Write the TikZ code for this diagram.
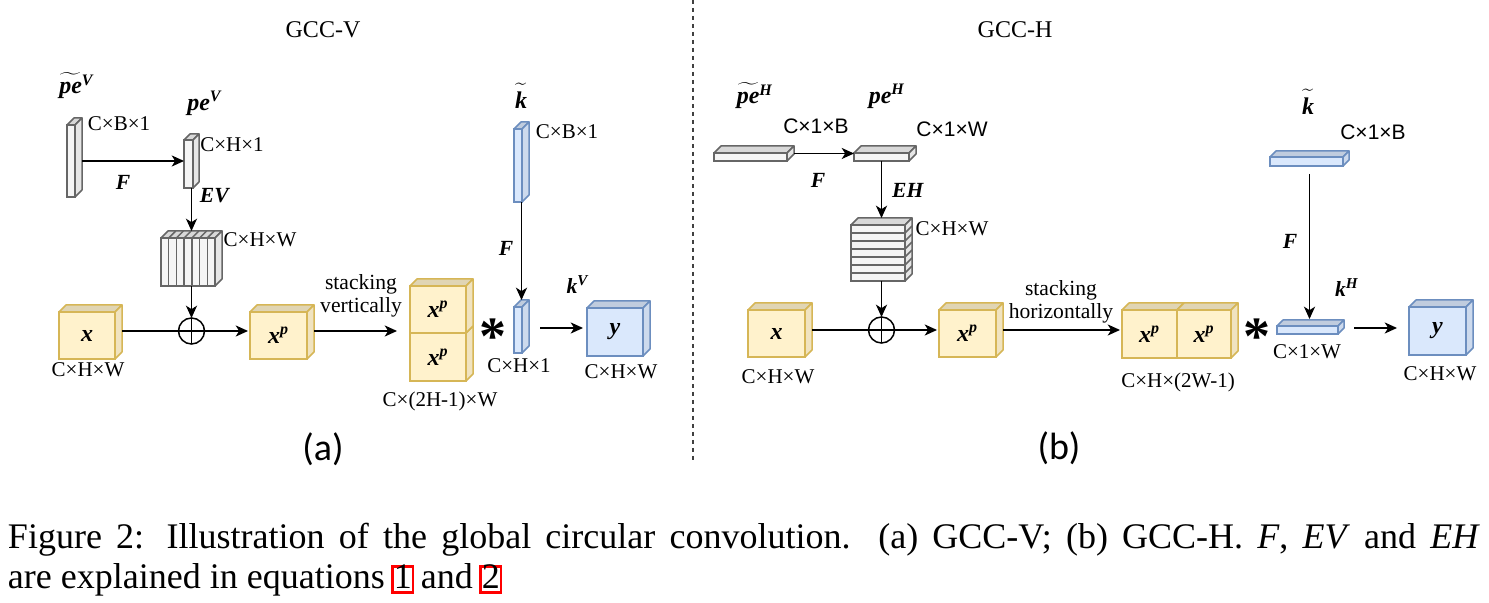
\documentclass[tikz,border=0pt]{standalone}
\usepackage{fontspec}
\setmainfont{Liberation Serif}
\newfontfamily\arialf{Liberation Sans}
\newfontfamily\carl{Carlito}
\usetikzlibrary{arrows.meta,calc}
\definecolor{yfill}{HTML}{FFF2CC}
\definecolor{yline}{HTML}{D6B656}
\definecolor{bfill}{HTML}{DAE8FC}
\definecolor{bline}{HTML}{6C8EBF}
\definecolor{gfill}{HTML}{F5F5F5}
\definecolor{gline}{HTML}{666666}
\newcommand{\bi}[1]{\textbf{\textit{#1}}}
\newcommand{\fs}[1]{\fontsize{#1}{#1}\selectfont}
\newcommand{\cubefaces}[4]{%
 \filldraw[fill=#2!88!black, draw=#3, face] (#1.north west) -- ++(#4,-#4) -- ([shift={(#4,-#4)}]#1.north east) -- (#1.north east) -- cycle;
 \filldraw[fill=#2!94!black, draw=#3, face] (#1.north east) -- ++(#4,-#4) -- ([shift={(#4,-#4)}]#1.south east) -- (#1.south east) -- cycle;}
\newcommand{\cubenode}[9]{%
 \node[draw=#7, fill=#6, line width=0.75pt, minimum width={(#4-#2)*0.5pt}, minimum height={(#5-#3)*0.5pt}] (#1) at ({(#2+#4)/2},{(#3+#5)/2}) {#9};
 \cubefaces{#1}{#6}{#7}{#8}}
\newcommand{\lnk}[1]{\leavevmode\rlap{\kern-1.3pt\raisebox{-1.2pt}{\color{red}\setlength{\fboxsep}{0pt}\setlength{\fboxrule}{1.3pt}\fbox{\phantom{#1}\rule{0pt}{11pt}}}}#1}
\newcommand{\tl}[1]{\leavevmode\rlap{\raisebox{1.6pt}{$\widetilde{\phantom{\mbox{#1}}}$}}#1}
\begin{document}
\begin{tikzpicture}[x=0.5pt,y=-0.5pt,
  every node/.style={inner sep=0pt,outer sep=0pt},
  face/.style={line width=0.75pt,line join=round},
  arr/.style={line width=0.65pt,-{Stealth[length=6.2pt,width=5.6pt,inset=1.8pt]}},
  ln/.style={line width=0.65pt},
  lab/.style={font=\fs{10.5}},
  slab/.style={font=\arialf\fs{10.5}},
  mlab/.style={font=\fs{10.8}},
  plab/.style={font=\fs{12}},
  ttl/.style={font=\fs{12}},
  sub/.style={font=\carl\fs{19}},
  stk/.style={font=\fontsize{10.8}{11.2}\selectfont, align=center},
  star/.style={font=\fs{27}\bfseries},
  oplus/.style={circle, draw, line width=0.75pt, minimum size=13pt}
]
\useasboundingbox (0,0) rectangle (1489,603);
\fill[white] (0,0) rectangle (1489,603);

% divider
\draw[dash pattern=on 2.2pt off 1.8pt, line width=0.8pt, black!75] (693,0) -- (693,460);

% ================= (a) GCC-V =================
\node[ttl] (t1) at (323,30) {GCC-V};
\cubenode{pv1}{67}{125}{75}{197}{gfill}{gline}{7}{}
\cubenode{pv2}{184}{140}{193}{188}{gfill}{gline}{6}{}
\node[plab] (lpvt) at (77,86) {\tl{\bi{pe}}\textsuperscript{\bi{V}}};
\node[plab] (lpv) at (205,103) {\bi{pe}\textsuperscript{\bi{V}}};
\node[lab] (lcb1) at (119,124) {C×B×1};
\node[lab] (lch1) at (232,145) {C×H×1};
\node[mlab] (lF1) at (123,182) {\bi{F}};
\node[mlab] (lEV) at (215,196) {\bi{EV}};

% sliced block (vertical slices)
\node[draw=gline, fill=gfill, line width=0.75pt, minimum width=27pt, minimum height=24pt] (sv) at (188,262) {};
\cubefaces{sv}{gfill}{gline}{7}
\foreach \i in {1,...,6}{
  \draw[gline, line width=0.75pt] ($(sv.north west)!\i/7!(sv.north east)$) -- ($(sv.south west)!\i/7!(sv.south east)$);
  \draw[gline, line width=0.75pt] ($(sv.north west)!\i/7!(sv.north east)$) -- ++(7,-7);
}
\node[lab] (lchw1) at (260,240) {C×H×W};

\node[oplus] (pa) at (191.5,331) {};
\draw[line width=0.75pt] (pa.north) -- (pa.south) (pa.west) -- (pa.east);

\cubenode{xa}{59}{312}{115}{359}{yfill}{yline}{7}{\fs{12}\bi{x}}
\node[lab] (lxa) at (88,370) {C×H×W};
\cubenode{xpa}{250}{312}{307}{359}{yfill}{yline}{7}{\fs{12}\bi{x}\textsuperscript{\bi{p}}}
\node[stk] (lsv) at (361,296) {stacking\\vertically};

\cubenode{sa2}{410}{333}{466}{381}{yfill}{yline}{7}{\fs{12}\bi{x}\textsuperscript{\bi{p}}}
\cubenode{sa1}{410}{286}{466}{333}{yfill}{yline}{7}{\fs{12}\bi{x}\textsuperscript{\bi{p}}}
\node[lab] (lsa) at (440,401) {C×(2H-1)×W};
\node[star] (st1) at (493,337) {*};

\cubenode{kta}{514}{129}{522}{202}{bfill}{bline}{7}{}
\node[plab] (lkta) at (521,96) {\tl{\bi{k}}};
\node[lab] (lcb2) at (567,132) {C×B×1};
\node[mlab] (lF2) at (506,248) {\bi{F}};
\cubenode{kva}{514}{307}{522}{353}{bfill}{bline}{7}{}
\node[mlab] (lkv) at (578,285) {\bi{k}\textsuperscript{\bi{V}}};
\node[lab] (lch1b) at (519,366) {C×H×1};
\cubenode{ya}{587}{308}{643}{356}{bfill}{bline}{7}{\fs{12}\bi{y}}
\node[lab] (lya) at (621,372) {C×H×W};
\node[sub] (la) at (323,449) {(a)};

% connectors (a)
\draw[arr] ($(pv1.east)+(7,0)$) -- (pv1.east -| pv2.west);
\draw[arr] ($(pv2.south)+(3,0)$) -- ($(sv.north)+(3.5,-7)$);
\draw[arr] ($(sv.south)+(3.5,0)$) -- (pa.north);
\draw[ln] ($(xa.east |- pa)+(7,0)$) -- (pa.west);
\draw[arr] (pa.east) -- ($(pa.east -| xpa.west)+(-2,0)$);
\draw[arr] ($(xpa.east |- pa)+(7,0)$) -- ($(sa1.west |- pa)+(-13,0)$);
\draw[arr] ($(kta.south)+(3.5,0)$) -- ($(kva.north)+(3.5,-7)$);
\draw[arr] ($(kva.east)+(18,-2)$) -- ($(ya.west |- kva.east)+(-4,-2)$);

% ================= (b) GCC-H =================
\node[ttl] (t2) at (1015,30) {GCC-H};
\cubenode{ph1}{714}{153}{787}{161}{gfill}{gline}{7}{}
\cubenode{ph2}{854}{153}{909}{161}{gfill}{gline}{7}{}
\node[plab] (lpht) at (755,96) {\tl{\bi{pe}}\textsuperscript{\bi{H}}};
\node[plab] (lph) at (887,96) {\bi{pe}\textsuperscript{\bi{H}}};
\node[slab] (lc1b) at (816,126) {C×1×B};
\node[slab] (lc1w) at (952,129) {C×1×W};
\node[mlab] (lF3) at (818,180) {\bi{F}};
\node[mlab] (lEH) at (908,190) {\bi{EH}};

% sliced block (horizontal slices)
\node[draw=gline, fill=gfill, line width=0.75pt, minimum width=27pt, minimum height=28pt] (sh) at (878,253) {};
\cubefaces{sh}{gfill}{gline}{7}
\foreach \i in {1,...,6}{
  \draw[gline, line width=0.75pt] ($(sh.north west)!\i/7!(sh.south west)$) -- ($(sh.north east)!\i/7!(sh.south east)$);
  \draw[gline, line width=0.75pt] ($(sh.north east)!\i/7!(sh.south east)$) -- ++(7,-7);
}
\node[lab] (lchw3) at (952,229) {C×H×W};

\node[oplus] (pb) at (881.5,330) {};
\draw[line width=0.75pt] (pb.north) -- (pb.south) (pb.west) -- (pb.east);

\cubenode{xb}{748}{310}{805}{357}{yfill}{yline}{7}{\fs{12}\bi{x}}
\node[lab] (lxb) at (778,377) {C×H×W};
\cubenode{xpb}{939}{310}{996}{357}{yfill}{yline}{7}{\fs{12}\bi{x}\textsuperscript{\bi{p}}}
\node[stk] (lsh) at (1061,302) {stacking\\horizontally};

\cubenode{sb1}{1122}{310}{1177}{358}{yfill}{yline}{7}{\fs{12}\bi{x}\textsuperscript{\bi{p}}}
\cubenode{sb2}{1177}{310}{1231}{358}{yfill}{yline}{7}{\fs{12}\bi{x}\textsuperscript{\bi{p}}}
\node[lab] (lsb) at (1178,382) {C×H×(2W-1)};
\node[star] (st2) at (1257,337) {*};

\cubenode{ktb}{1270}{157}{1343}{166}{bfill}{bline}{6}{}
\node[plab] (lktb) at (1308,102) {\tl{\bi{k}}};
\node[slab] (lc1b2) at (1373,132) {C×1×B};
\node[mlab] (lF4) at (1290,241) {\bi{F}};
\cubenode{khb}{1277}{326}{1338}{334}{bfill}{bline}{6}{}
\node[mlab] (lkh) at (1347,288) {\bi{k}\textsuperscript{\bi{H}}};
\node[lab] (lc1w2) at (1307,352) {C×1×W};
\cubenode{yb}{1409}{307}{1466}{355}{bfill}{bline}{7}{\fs{12}\bi{y}}
\node[lab] (lyb) at (1440,374) {C×H×W};
\node[sub] (lb) at (1059,448) {(b)};

% connectors (b)
\draw[arr] ($(ph1.east)+(7,-3.5)$) -- ($(ph2.west)+(0,-3.5)$);
\coordinate (shtop) at ($(sh.north)+(3.5,-7)$);
\draw[arr] (ph2.south -| shtop) -- (shtop);
\draw[arr] ($(sh.south)+(3.5,0)$) -- (pb.north);
\draw[ln] ($(xb.east |- pb)+(7,0)$) -- (pb.west);
\draw[arr] (pb.east) -- ($(pb.east -| xpb.west)+(-2,0)$);
\draw[arr] ($(xpb.east |- pb)+(7,0)$) -- ($(sb1.west |- pb)+(-2,0)$);
\coordinate (ktbs) at ($(ktb.south)+(3,8)$);
\coordinate (khbt) at ($(khb.north)+(0,-7)$);
\draw[arr] (ktbs) -- (ktbs |- khbt);
\draw[arr] ($(khb.east)+(16,-2)$) -- ($(yb.west |- khb.east)+(-12,-2)$);

% caption
\node[anchor=base west] (cap) at (8,549) {\parbox[t]{736pt}{\fontsize{18}{20}\selectfont Figure 2: Illustration of the global circular convolution. (a) GCC-V; (b) GCC-H. \textit{F}, \textit{EV} and \textit{EH}\linebreak are explained in equations \lnk{1} and \lnk{2}}};
\end{tikzpicture}
\end{document}
